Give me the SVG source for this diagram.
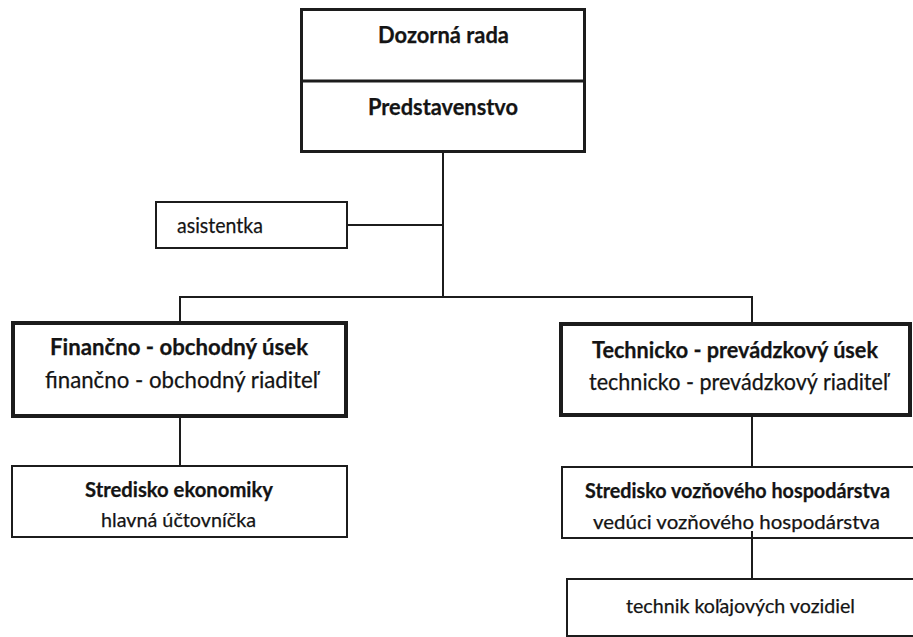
<svg xmlns="http://www.w3.org/2000/svg" width="913" height="637" viewBox="0 0 913 637">
<style>
.bg{fill:#ffffff}
.box{fill:#ffffff;stroke:#1c1c1c}
.thick{stroke-width:4}
.mid{stroke-width:3}
.thin{stroke-width:2}
.ln{stroke:#1c1c1c;stroke-width:2;fill:none}
text{font-family:Lato,"Open Sans","Liberation Sans",sans-serif;fill:#141414;stroke:#141414;stroke-width:0.25}
.b{font-weight:bold}
</style>
<rect class="bg" x="0" y="0" width="913" height="637"/>
<g id="connectors">
<line class="ln" x1="443" y1="153" x2="443" y2="297"/>
<line class="ln" x1="348" y1="225" x2="443" y2="225"/>
<line class="ln" x1="179" y1="297" x2="753" y2="297"/>
<line class="ln" x1="180" y1="297" x2="180" y2="321"/>
<line class="ln" x1="752" y1="297" x2="752" y2="322"/>
<line class="ln" x1="180" y1="417" x2="180" y2="465"/>
<line class="ln" x1="752" y1="416" x2="752" y2="466"/>
</g>
<g id="top">
<rect class="box mid" x="301.5" y="9.5" width="283" height="142"/>
<line class="ln" x1="301" y1="81" x2="585" y2="81" style="stroke-width:3"/>
<text class="b" x="443.5" y="43" text-anchor="middle" font-size="22" textLength="131" lengthAdjust="spacingAndGlyphs">Dozorná rada</text>
<text class="b" x="443" y="115" text-anchor="middle" font-size="22" textLength="150" lengthAdjust="spacingAndGlyphs">Predstavenstvo</text>
</g>
<g id="asistentka">
<rect class="box thin" x="156" y="202" width="191" height="46"/>
<text x="177" y="233" font-size="22" textLength="86" lengthAdjust="spacingAndGlyphs">asistentka</text>
</g>
<g id="financny">
<rect class="box thick" x="13" y="323" width="333" height="93"/>
<text class="b" x="179" y="355" text-anchor="middle" font-size="23" textLength="258" lengthAdjust="spacingAndGlyphs">Finančno - obchodný úsek</text>
<text x="181.5" y="388" text-anchor="middle" font-size="23" textLength="273" lengthAdjust="spacingAndGlyphs">finančno - obchodný riaditeľ</text>
</g>
<g id="ekonomika">
<rect class="box thin" x="12" y="466" width="335" height="71"/>
<text class="b" x="179" y="497" text-anchor="middle" font-size="20" textLength="188" lengthAdjust="spacingAndGlyphs">Stredisko ekonomiky</text>
<text x="178.5" y="527" text-anchor="middle" font-size="20" textLength="155" lengthAdjust="spacingAndGlyphs">hlavná účtovníčka</text>
</g>
<g id="technicky">
<rect class="box thick" x="561" y="324" width="349" height="91"/>
<text class="b" x="735" y="358" text-anchor="middle" font-size="23" textLength="286" lengthAdjust="spacingAndGlyphs">Technicko - prevádzkový úsek</text>
<text x="738.5" y="390" text-anchor="middle" font-size="23" textLength="299" lengthAdjust="spacingAndGlyphs">technicko - prevádzkový riaditeľ</text>
</g>
<g id="vozne">
<rect class="box thin" x="562" y="467" width="360" height="71"/>
<text class="b" x="737.5" y="498" text-anchor="middle" font-size="20" textLength="305" lengthAdjust="spacingAndGlyphs">Stredisko vozňového hospodárstva</text>
<text x="736.5" y="529" text-anchor="middle" font-size="20" textLength="287" lengthAdjust="spacingAndGlyphs">vedúci vozňového hospodárstva</text>
</g>
<g id="connector-vozne-technik">
<line class="ln" x1="752" y1="531" x2="752" y2="578"/>
</g>
<g id="technik">
<rect class="box thin" x="567" y="579" width="360" height="57"/>
<text x="740.5" y="613" text-anchor="middle" font-size="20" textLength="229" lengthAdjust="spacingAndGlyphs">technik koľajových vozidiel</text>
</g>
</svg>
